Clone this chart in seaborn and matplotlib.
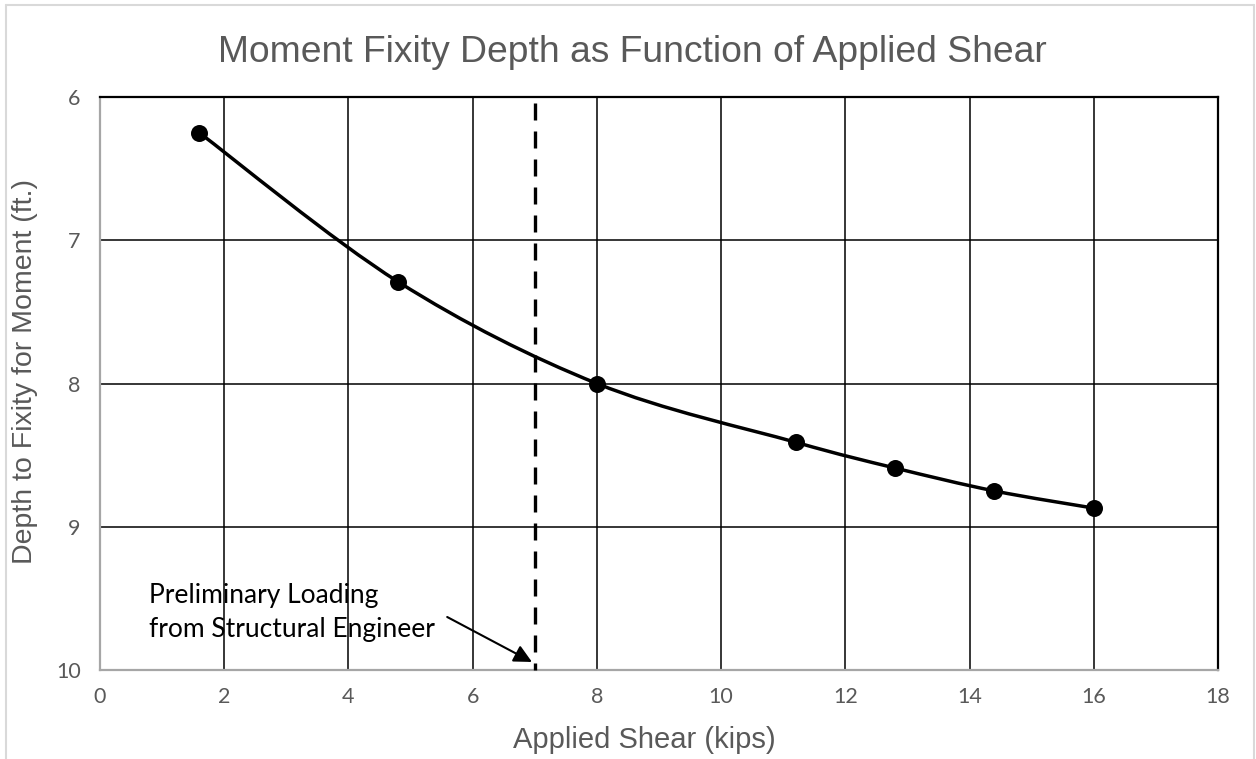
import numpy as np
import pandas as pd
import matplotlib
matplotlib.use("Agg")
import matplotlib.pyplot as plt
from matplotlib.path import Path
from matplotlib.patches import PathPatch
from matplotlib.lines import Line2D
import seaborn as sns

# Depth to moment fixity vs. applied shear
shear_kips = [1.6, 4.8, 8.0, 11.2, 12.8, 14.4, 16.0]
fixity_depth_ft = [6.25, 7.29, 8.00, 8.41, 8.59, 8.75, 8.87]
preliminary_shear = 7.0

x_ticks = [0, 2, 4, 6, 8, 10, 12, 14, 16, 18]
y_ticks = [6, 7, 8, 9, 10]

title = "Moment Fixity Depth as Function of Applied Shear"
x_label = "Applied Shear (kips)"
y_label = "Depth to Fixity for Moment (ft.)"
note = "Preliminary Loading\nfrom Structural Engineer"

sns.set_theme(style="white")
plt.rcParams["font.family"] = ["Liberation Sans", "DejaVu Sans"]

GREY_TXT = "#595959"
W, H = 1256, 759
fig = plt.figure(figsize=(W / 100, H / 100), dpi=100)
fig.patch.set_facecolor("white")

# axes placement in pixels
left, right, top, bottom = 100, 1218, 97, 670
ax = fig.add_axes([left / W, 1 - bottom / H, (right - left) / W, (bottom - top) / H])

ax.set_xlim(0, 18)
ax.set_ylim(10, 6)
ax.set_xticks(x_ticks)
ax.set_yticks(y_ticks)

# grid lines
for xv in x_ticks[1:-1]:
    ax.axvline(xv, color="black", lw=1.1, zorder=1)
for yv in y_ticks[1:-1]:
    ax.axhline(yv, color="black", lw=1.1, zorder=1)

for side in ["top", "right"]:
    ax.spines[side].set_color("black")
    ax.spines[side].set_linewidth(1.6)
for side in ["left", "bottom"]:
    ax.spines[side].set_color("#a6a6a6")
    ax.spines[side].set_linewidth(1.6)

ax.tick_params(axis="both", length=0, labelcolor=GREY_TXT, labelsize=15.5,
               labelfontfamily="Lato")
ax.tick_params(axis="y", pad=14)
ax.tick_params(axis="x", pad=12)

# smoothed connecting curve (Catmull-Rom style Bezier segments)
pts = np.column_stack([shear_kips, fixity_depth_ft])
verts = [tuple(pts[0])]
codes = [Path.MOVETO]
n = len(pts)
for i in range(n - 1):
    p0 = pts[i - 1] if i > 0 else pts[i]
    p1 = pts[i]
    p2 = pts[i + 1]
    p3 = pts[i + 2] if i + 2 < n else pts[i + 1]
    c1 = p1 + (p2 - p0) / 6.0
    c2 = p2 - (p3 - p1) / 6.0
    verts += [tuple(c1), tuple(c2), tuple(p2)]
    codes += [Path.CURVE4] * 3
ax.add_patch(PathPatch(Path(verts, codes), fill=False, edgecolor="black",
                       lw=2.5, zorder=3, capstyle="round"))

df = pd.DataFrame({"shear": shear_kips, "depth": fixity_depth_ft})
sns.scatterplot(data=df, x="shear", y="depth", ax=ax, s=150, color="black",
                edgecolor="black", linewidth=0, zorder=4, legend=False)

# preliminary loading line
ax.plot([preliminary_shear, preliminary_shear], [6, 10], color="black",
        lw=2.4, ls=(6.6, (5.1, 3.3)), zorder=5, clip_on=False)

ax.annotate("", xy=(6.955, 9.944), xytext=(5.59, 9.63),
            arrowprops=dict(arrowstyle="-|>", color="black", lw=1.5,
                            mutation_scale=27, shrinkA=0, shrinkB=0),
            zorder=6)
ax.text(0.79, 9.39, note, ha="left", va="top", fontsize=19,
        family=["Lato", "DejaVu Sans"], color="black", linespacing=1.45,
        zorder=6)

ax.set_xlabel("")
ax.set_ylabel("")
fig.text(644 / W, 1 - 740 / H, x_label, ha="center", va="center",
         fontsize=21, color=GREY_TXT)
fig.text(25 / W, 1 - 372 / H, y_label, ha="center", va="center",
         rotation=90, fontsize=20.5, color=GREY_TXT)
fig.text(632 / W, 1 - 52 / H, title, ha="center", va="center",
         fontsize=26.8, color=GREY_TXT)

# outer chart frame
frame_color = "#d9d9d9"
fig.add_artist(Line2D([6 / W, 6 / W], [0, 1 - 5 / H], color=frame_color, lw=1.5,
                      transform=fig.transFigure))
fig.add_artist(Line2D([6 / W, 1254 / W], [1 - 5 / H, 1 - 5 / H], color=frame_color,
                      lw=1.5, transform=fig.transFigure))
fig.add_artist(Line2D([1254 / W, 1254 / W], [0, 1 - 5 / H], color=frame_color,
                      lw=1.5, transform=fig.transFigure))

fig.savefig("out.png", dpi=100, facecolor="white")
